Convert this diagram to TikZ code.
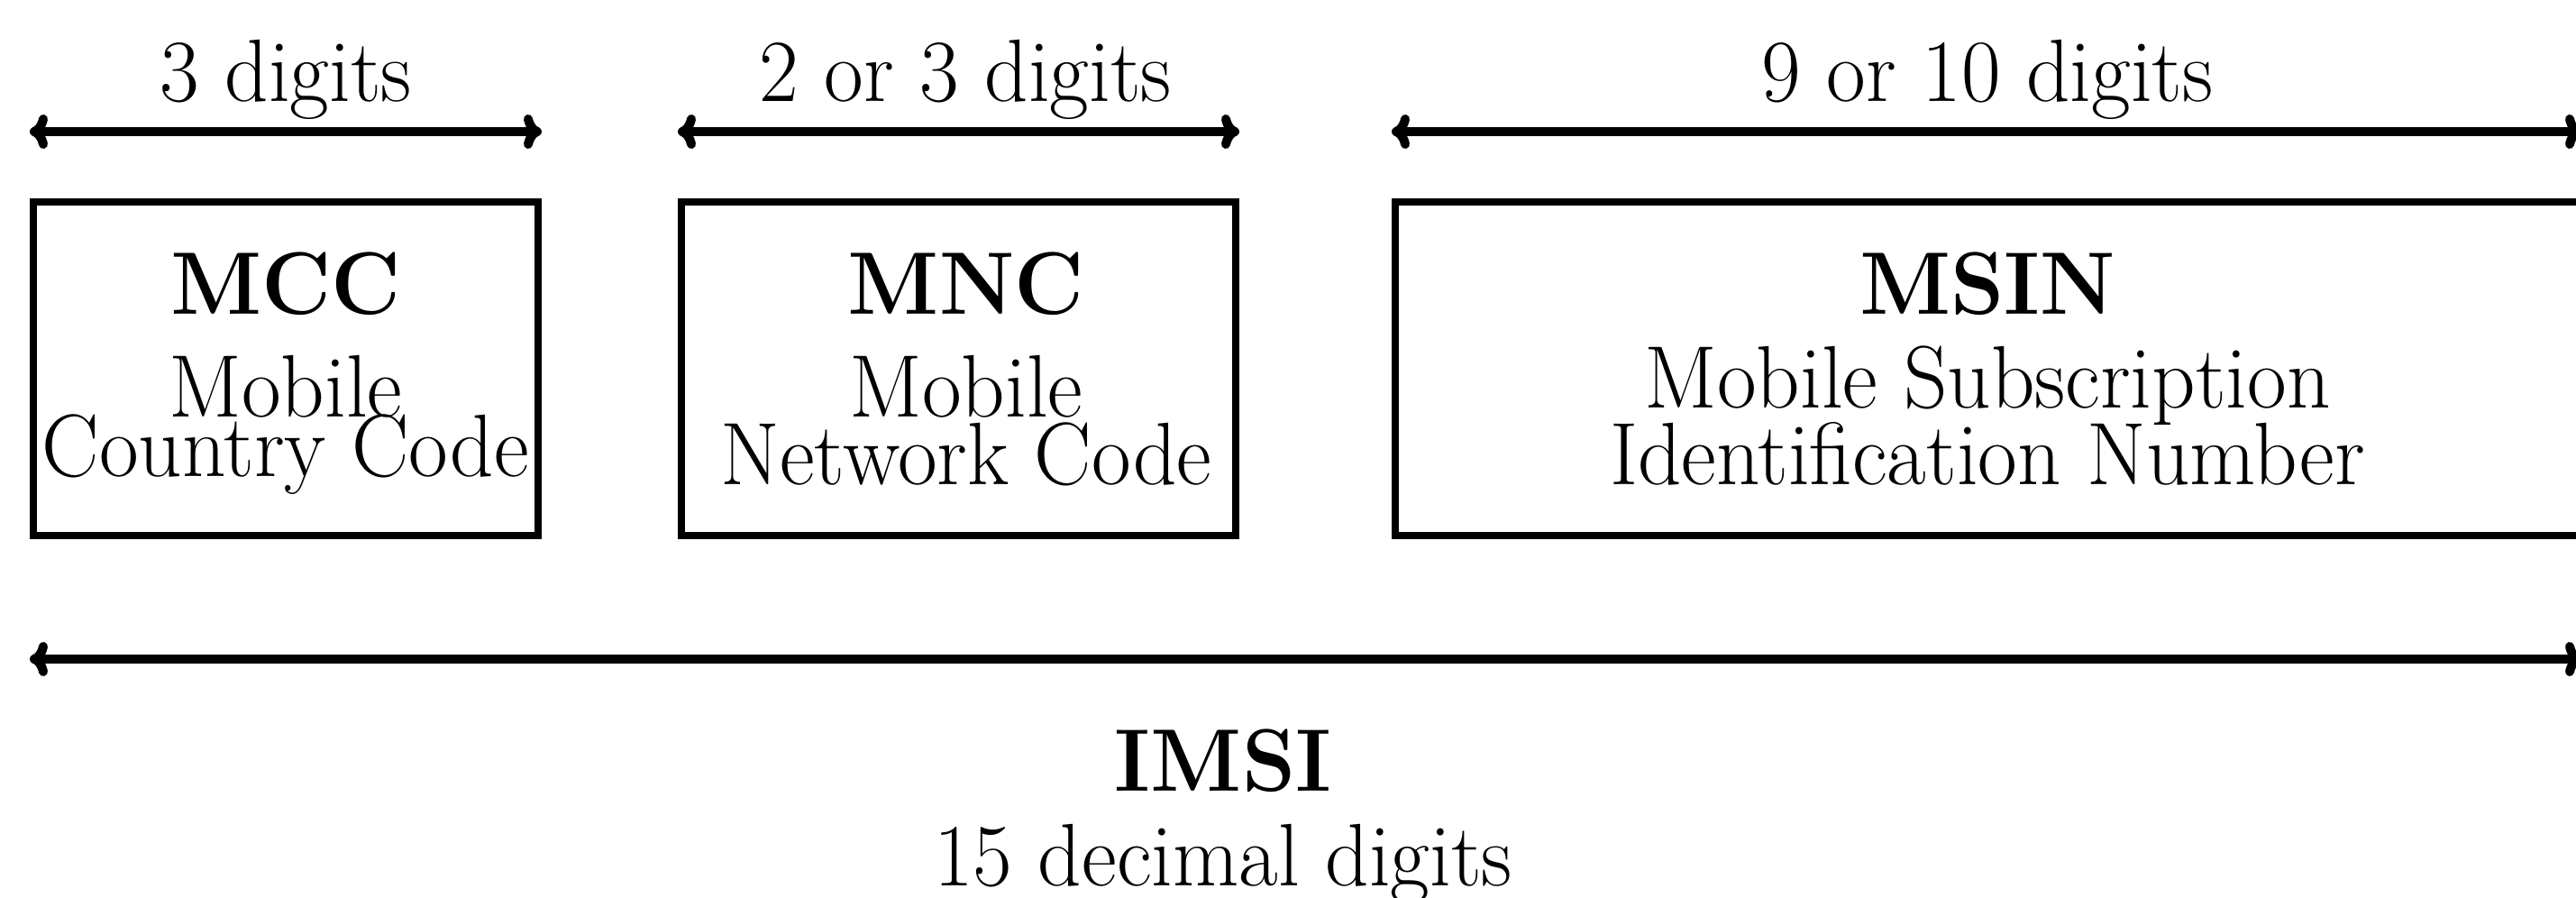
\documentclass[tikz,border=0pt]{standalone}
\usepackage{graphicx}
\usepackage{tikz}
\usetikzlibrary{arrows.meta,calc}

% slightly narrower letters, as in the drawing
\newcommand{\narrow}[1]{\scalebox{0.965}[1]{#1}}

\begin{document}
\begin{tikzpicture}[
    field/.style={draw, line width=0.8mm, inner sep=0pt, minimum height=3.70cm},
    span/.style={{Computer Modern Rightarrow[length=2mm,width=3.8mm]}-{Computer Modern Rightarrow[length=2mm,width=3.8mm]}, line width=1mm},
    lbl/.style={anchor=base, inner sep=0pt, font=\fontsize{28}{30}\selectfont},
    ttl/.style={lbl, font=\fontsize{28}{30}\selectfont\bfseries}
]
\useasboundingbox (0,0) rectangle (28.58,-9.96);

% the three fields
\node[field, minimum width=5.60cm] (mcc) at (3.17,-4.09) {};
\node[field, minimum width=6.15cm] (mnc) at (10.635,-4.09) {};
\node[field, minimum width=13.14cm] (msin) at (22.05,-4.09) {};

% texts in the fields
\node[ttl] (mccname) at (3.17,-3.48) {\narrow{MCC}};
\node[lbl] (mcctxta) at (3.17,-4.62) {\narrow{Mobile}};
\node[lbl] (mcctxtb) at (3.17,-5.28) {\narrow{Country Code}};

\node[ttl] (mncname) at (10.72,-3.48) {\narrow{MNC}};
\node[lbl] (mnctxta) at (10.72,-4.62) {\narrow{Mobile}};
\node[lbl] (mnctxtb) at (10.72,-5.37) {\narrow{Network Code}};

\node[ttl] (msinname) at (22.05,-3.48) {\narrow{MSIN}};
\node[lbl] (msintxta) at (22.05,-4.52) {\narrow{Mobile Subscription}};
\node[lbl] (msintxtb) at (22.05,-5.37) {\narrow{Identification Number}};

% lengths above
\coordinate (mccl) at ($(mcc.north west)+(0,0.74)$);
\coordinate (mccr) at ($(mcc.north east)+(0,0.74)$);
\coordinate (mncl) at ($(mnc.north west)+(0,0.74)$);
\coordinate (mncr) at ($(mnc.north east)+(0,0.74)$);
\coordinate (msinl) at ($(msin.north west)+(0,0.74)$);
\coordinate (msinr) at ($(msin.north east)+(0,0.74)$);
\draw[span] (mccl) -- (mccr);
\draw[span] (mncl) -- (mncr);
\draw[span] (msinl) -- (msinr);
\node[lbl] (mccdig) at (3.17,-1.13) {\narrow{3 digits}};
\node[lbl] (mncdig) at (10.71,-1.13) {\narrow{2 or 3 digits}};
\node[lbl] (msindig) at (22.05,-1.13) {\narrow{9 or 10 digits}};

% whole number
\coordinate (imsil) at ($(mcc.south west)+(0,-1.33)$);
\coordinate (imsir) at ($(msin.south east)+(0,-1.33)$);
\draw[span] (imsil) -- (imsir);
\node[ttl] (imsiname) at (13.57,-8.77) {\narrow{IMSI}};
\node[lbl] (imsitxt) at (13.57,-9.82) {\narrow{15 decimal digits}};
\end{tikzpicture}
\end{document}
